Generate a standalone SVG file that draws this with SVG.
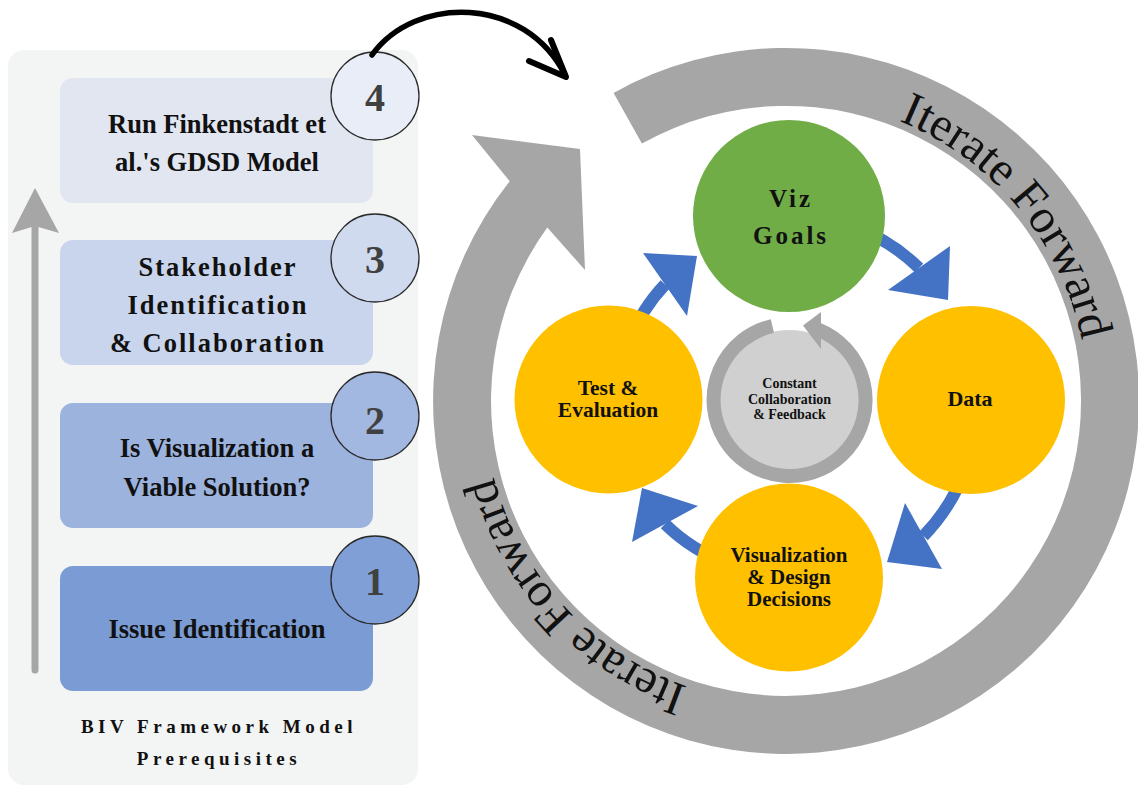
<svg xmlns="http://www.w3.org/2000/svg" width="1138" height="787" viewBox="0 0 1138 787">
<style>
.serif{font-family:"Liberation Serif","Times New Roman",serif;font-weight:bold;fill:#111}
.boxtxt{font-size:26.5px;text-anchor:middle}
.num{font-family:"Liberation Serif",serif;font-weight:bold;font-size:40px;fill:#404040;text-anchor:middle}
.badge{stroke:#2a2a2a;stroke-width:1.3}
.ctxt{text-anchor:middle}
.ring{font-family:"Liberation Serif","Times New Roman",serif;font-size:48px;fill:#111}
.blue{fill:#4472c4}
.shaft{fill:none;stroke:#4472c4;stroke-width:12}
</style>
<rect width="1138" height="787" fill="#ffffff"/>

<!-- left panel -->
<g id="panel">
<rect x="8" y="50" width="410" height="735" rx="16" fill="#f3f4f4"/>
<line x1="35" y1="670" x2="35" y2="224" stroke="#a6a6a6" stroke-width="7" stroke-linecap="round"/>
<polygon points="35,188 59,233 35,226 12,233" fill="#a6a6a6"/>
<text class="serif" font-size="19" letter-spacing="4.5" text-anchor="middle" x="219" y="733">BIV Framework Model</text>
<text class="serif" font-size="19" letter-spacing="4.5" text-anchor="middle" x="219" y="765">Prerequisites</text>
</g>

<g id="step4">
<rect x="60" y="78" width="313" height="125" rx="13" fill="#e2e6f0"/>
<text class="serif boxtxt" x="217" y="133">Run Finkenstadt et</text>
<text class="serif boxtxt" x="217" y="171">al.'s GDSD Model</text>
<circle class="badge" cx="375" cy="96" r="44" fill="#e8edf7"/>
<text class="num" x="375" y="111">4</text>
</g>
<g id="step3">
<rect x="60" y="240" width="313" height="125" rx="13" fill="#c9d5ec"/>
<text class="serif boxtxt" letter-spacing="2" x="218" y="276">Stakeholder</text>
<text class="serif boxtxt" letter-spacing="2" x="218" y="314">Identification</text>
<text class="serif boxtxt" letter-spacing="2" x="218" y="352">&amp; Collaboration</text>
<circle class="badge" cx="375" cy="258" r="44" fill="#cfdaef"/>
<text class="num" x="375" y="273">3</text>
</g>
<g id="step2">
<rect x="60" y="403" width="313" height="125" rx="13" fill="#9cb3de"/>
<text class="serif boxtxt" x="217" y="457">Is Visualization a</text>
<text class="serif boxtxt" x="217" y="496">Viable Solution?</text>
<circle class="badge" cx="375" cy="416" r="44" fill="#a3b8e1"/>
<text class="num" x="375" y="434">2</text>
</g>
<g id="step1">
<rect x="60" y="566" width="313" height="125" rx="13" fill="#7a9bd3"/>
<text class="serif boxtxt" x="217" y="638">Issue Identification</text>
<circle class="badge" cx="375" cy="580" r="44" fill="#7f9fd6"/>
<text class="num" x="375" y="595">1</text>
</g>

<!-- big iterate ring -->
<g id="iterate-ring">
<path d="M 613.6 92.9 A 353 353 0 1 1 509.7 181.3 L 472 135 L 580 149 L 585 270 L 547.3 227.6 A 295 295 0 1 0 641.9 143.5 Z" fill="#a6a6a6"/>
<path id="tp1" d="M 899.1 121 A 302 302 0 0 1 1042.1 561" fill="none"/>
<path id="tp2" d="M 687.7 686.5 A 302 302 0 0 1 521.9 254.6" fill="none"/>
<text class="ring"><textPath href="#tp1">Iterate Forward</textPath></text>
<text class="ring"><textPath href="#tp2">Iterate Forward</textPath></text>
</g>

<!-- connectors -->
<g id="connectors">
<path d="M 372 55 C 415 -5, 525 -5, 565 75" fill="none" stroke="#000" stroke-width="5.5" stroke-linecap="round"/>
<polyline points="529,61 566,77 551,40" fill="none" stroke="#000" stroke-width="6" stroke-linecap="round" stroke-linejoin="round"/>
<g id="arrow-goals-data">
<path class="shaft" d="M 852 226 A 185 185 0 0 1 919 268"/>
<polygon class="blue" points="888,290 950,246 948,300"/>
</g>
<g id="arrow-data-design">
<path class="shaft" d="M 967 465 A 190 190 0 0 1 923.5 536"/>
<polygon class="blue" points="905,503 942,569 887,562"/>
</g>
<g id="arrow-design-test">
<path class="shaft" d="M 729 564 A 175 175 0 0 1 665 524"/>
<polygon class="blue" points="698,506 632,542 642,488"/>
</g>
<g id="arrow-test-goals">
<path class="shaft" d="M 629 342 A 170 170 0 0 1 665 284.5"/>
<polygon class="blue" points="643,253 687,316 697,256"/>
</g>
</g>

<!-- center -->
<g id="center">
<circle cx="789.5" cy="400" r="70" fill="#d0d0d0"/>
<path d="M 772.4 325.95 A 76 76 0 1 0 818 329.5" fill="none" stroke="#a6a6a6" stroke-width="14"/>
<polygon points="821,312 803,325.5 821,349" fill="#a6a6a6"/>
<text class="serif ctxt" font-size="14" x="789.5" y="388">Constant</text>
<text class="serif ctxt" font-size="14" x="789.5" y="404">Collaboration</text>
<text class="serif ctxt" font-size="14" x="789.5" y="419">&amp; Feedback</text>
</g>

<g id="viz-goals">
<circle cx="789" cy="216" r="96" fill="#70ad47"/>
<text class="serif ctxt" font-size="25" letter-spacing="3" x="791" y="207">Viz</text>
<text class="serif ctxt" font-size="25" letter-spacing="3" x="791" y="244">Goals</text>
</g>
<g id="data">
<circle cx="971" cy="400" r="94" fill="#ffc000"/>
<text class="serif ctxt" font-size="22" x="970" y="406">Data</text>
</g>
<g id="design">
<circle cx="789" cy="577.5" r="94" fill="#ffc000"/>
<text class="serif ctxt" font-size="21" x="789" y="562">Visualization</text>
<text class="serif ctxt" font-size="21" x="789" y="584">&amp; Design</text>
<text class="serif ctxt" font-size="21" x="789" y="606">Decisions</text>
</g>
<g id="test">
<circle cx="608.5" cy="399.5" r="94" fill="#ffc000"/>
<text class="serif ctxt" font-size="21.5" x="608" y="395">Test &amp;</text>
<text class="serif ctxt" font-size="21.5" x="608" y="417">Evaluation</text>
</g>
</svg>
